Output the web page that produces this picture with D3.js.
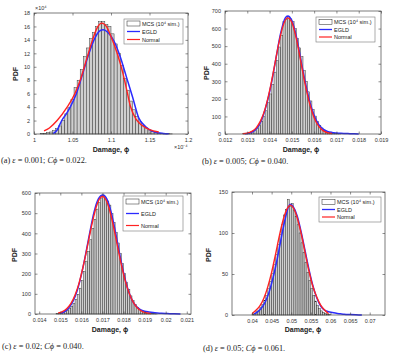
<!DOCTYPE html>
<html>
<head>
<meta charset="utf-8">
<script src="https://cdn.jsdelivr.net/npm/d3@7"></script>
<style>
  body { margin: 0; background: #fff; }
  svg { display: block; }
  .axis path.domain { display: none; }
  .axis line { stroke: #444; stroke-width: 0.6; }
  .axis text { font-family: "Liberation Sans", Arial, sans-serif; font-size: 5.5px; fill: #333; }
  .axis-title { font-family: "Liberation Sans", Arial, sans-serif; font-size: 7px; font-weight: bold; fill: #222; }
  .expo { font-family: "Liberation Sans", Arial, sans-serif; font-size: 5.5px; fill: #333; }
  .caption { font-family: "Liberation Serif", "Times New Roman", serif; font-size: 8.3px; fill: #222; }
  .legend text { font-family: "Liberation Sans", Arial, sans-serif; font-size: 5.5px; fill: #222; }
</style>
</head>
<body>
<svg id="fig" width="400" height="354"></svg>
<script>
// ---- data ----
// (a) eps = 0.001  (x in 1e-4, y in 1e4)
const aXTicks = [1, 1.05, 1.1, 1.15, 1.2];
const aYTicks = [0, 2, 4, 6, 8, 10, 12, 14, 16, 18];
const aBinStart = 1.008, aBinWidth = 0.004;
const aBars = [0.05, 0.1, 0.2, 0.3, 0.5, 0.8, 1.2, 2.0, 3.0, 3.9, 5.1, 6.9, 8.0, 9.6, 11.5, 12.8,
  14.2, 15.1, 16.0, 16.7, 16.7, 16.3, 16.0, 14.9, 13.4, 12.0, 10.2, 8.3, 6.5, 4.9, 3.6, 2.6,
  1.8, 1.3, 0.9, 0.6, 0.4, 0.25, 0.15, 0.1, 0.06, 0.04, 0.02];
const aEgld = [[1.025, 0.05], [1.030, 0.6], [1.036, 2.0], [1.042, 3.0], [1.047, 4.0], [1.055, 6.0],
  [1.062, 8.5], [1.070, 11.5], [1.078, 14.0], [1.085, 15.3], [1.090, 15.5], [1.096, 15.1],
  [1.104, 13.8], [1.112, 11.5], [1.120, 8.5], [1.128, 5.5], [1.136, 2.4], [1.144, 1.2],
  [1.152, 0.5], [1.160, 0.2], [1.168, 0.08], [1.175, 0.02]];
const aNormal = [[1.013, 0.45], [1.020, 0.9], [1.030, 2.0], [1.043, 4.0], [1.053, 6.0], [1.060, 8.0],
  [1.068, 11.0], [1.076, 14.0], [1.082, 15.8], [1.088, 16.5], [1.094, 16.0], [1.100, 14.5],
  [1.108, 12.0], [1.116, 8.8], [1.120, 6.8], [1.125, 4.2], [1.1325, 2.2], [1.140, 1.3],
  [1.150, 0.65], [1.162, 0.3]];

// (b) eps = 0.005
const bXTicks = [0.012, 0.013, 0.014, 0.015, 0.016, 0.017, 0.018, 0.019];
const bYTicks = [0, 100, 200, 300, 400, 500, 600, 700];
const bBinStart = 0.0128, bBinWidth = 0.0001;
const bBars = [2, 3, 5, 9, 14, 22, 32, 48, 70, 98, 132, 178, 228, 282, 352, 418, 495, 560, 640,
  652, 668, 655, 640, 600, 545, 490, 440, 360, 300, 240, 188, 140, 102, 72, 50, 34, 22, 15,
  10, 7, 5, 3, 2, 1];
const bEgld = [[0.0129, 2], [0.0131, 6], [0.0133, 18], [0.0135, 45], [0.0137, 100], [0.0139, 185],
  [0.0141, 300], [0.0143, 440], [0.0145, 575], [0.0147, 660], [0.01482, 672], [0.0150, 645],
  [0.0152, 555], [0.0154, 425], [0.0156, 295], [0.0158, 185], [0.0160, 105], [0.0162, 55],
  [0.0164, 28], [0.0166, 15], [0.0168, 9], [0.0170, 6], [0.0172, 4], [0.0174, 3],
  [0.0176, 2], [0.0178, 1.2], [0.0180, 0.5]];
const bNormal = [[0.0128, 2], [0.0130, 5], [0.0132, 15], [0.0134, 35], [0.0136, 76], [0.0138, 143],
  [0.0140, 245], [0.0142, 373], [0.0144, 507], [0.0146, 614], [0.0148, 661], [0.0150, 635],
  [0.0152, 543], [0.0154, 414], [0.0156, 281], [0.0158, 172], [0.0160, 93], [0.0162, 45],
  [0.0164, 19], [0.0166, 7], [0.0168, 2.5]];

// (c) eps = 0.02
const cXTicks = [0.014, 0.015, 0.016, 0.017, 0.018, 0.019, 0.02, 0.021];
const cYTicks = [0, 100, 200, 300, 400, 500, 600];
const cBinStart = 0.0148, cBinWidth = 0.0001;
const cBars = [2, 3, 5, 8, 12, 18, 26, 38, 52, 72, 98, 128, 165, 210, 262, 310, 368, 425, 470,
  520, 552, 575, 590, 575, 560, 540, 498, 455, 405, 352, 300, 250, 200, 158, 122, 90, 66, 47,
  33, 23, 16, 11, 8, 5, 4, 3, 2, 1];
const cEgld = [[0.0150, 4], [0.0152, 12], [0.0154, 30], [0.0156, 62], [0.0158, 115], [0.0160, 195],
  [0.0162, 295], [0.0164, 405], [0.0166, 505], [0.0168, 570], [0.01702, 590], [0.0172, 572],
  [0.0174, 510], [0.0176, 415], [0.0178, 305], [0.0180, 205], [0.0182, 125], [0.0184, 70],
  [0.0186, 38], [0.0188, 22], [0.0190, 14], [0.0192, 10], [0.0194, 7], [0.0196, 5],
  [0.0198, 3.5], [0.0200, 2.5], [0.0202, 1.8], [0.0204, 1.0], [0.0207, 0.3]];
const cNormal = [[0.0149, 5], [0.0151, 12], [0.0153, 26], [0.0155, 51], [0.0157, 94], [0.0159, 157],
  [0.0161, 243], [0.0163, 343], [0.0165, 445], [0.0167, 529], [0.0169, 577], [0.0170, 583],
  [0.0171, 577], [0.0173, 529], [0.0175, 445], [0.0177, 343], [0.0179, 243], [0.0181, 157],
  [0.0183, 94], [0.0185, 51], [0.0187, 26], [0.0189, 12], [0.0191, 5], [0.0193, 2]];

// (d) eps = 0.05
const dXTicks = [0.04, 0.045, 0.05, 0.055, 0.06, 0.065, 0.07];
const dYTicks = [0, 50, 100, 150];
const dBinStart = 0.0400, dBinWidth = 0.0005;
const dBars = [1, 2, 4, 6, 9, 13, 18, 24, 32, 41, 51, 62, 74, 86, 98, 110, 122, 129, 141, 132,
  136, 128, 120, 110, 100, 88, 76, 64, 52, 42, 32, 24, 17, 12, 8, 5, 3, 2, 1, 1];
const dEgld = [[0.0405, 1], [0.0415, 4], [0.0425, 9], [0.0435, 17], [0.0445, 30], [0.0455, 48],
  [0.0465, 70], [0.0475, 95], [0.0485, 118], [0.0497, 135], [0.0505, 132], [0.0515, 121],
  [0.0525, 102], [0.0535, 79], [0.0545, 56], [0.0555, 36], [0.0565, 21], [0.0575, 11],
  [0.0585, 6], [0.0595, 4], [0.0605, 3], [0.0615, 2], [0.0625, 1.5], [0.0635, 1],
  [0.0650, 0.6], [0.0665, 0.3], [0.0680, 0]];
const dNormal = [[0.0400, 1.5], [0.0410, 5.7], [0.0420, 11], [0.0430, 20], [0.0440, 34], [0.0450, 52],
  [0.0460, 74], [0.0470, 97], [0.0480, 117], [0.0490, 130], [0.0498, 134], [0.0505, 131],
  [0.0515, 119], [0.0525, 100], [0.0535, 77], [0.0545, 54], [0.0555, 35], [0.0565, 22],
  [0.0575, 12], [0.0585, 6], [0.0595, 1.5]];

const legendLabels = ['MCS (10\u2074 sim.)', 'EGLD', 'Normal'];

// ---- layout ----
const panels = [
  { box: {l: 34, t: 13, r: 188, b: 134}, xDomain: [1, 1.2], yDomain: [0, 18],
    xTicks: aXTicks, yTicks: aYTicks, binStart: aBinStart, binWidth: aBinWidth, bars: aBars,
    egld: aEgld, normal: aNormal,
    legend: {x: 124, y: 19, w: 59, h: 25, gap: 8},
    pdf: [18, 74], dmg: [111, 152],
    caption: {x: 1, y: 163, tag: '(a)', eps: '0.001', c: '0.022'},
    yExpo: '\u00d710\u2074', xExpo: '\u00d710\u207b\u2074' },
  { box: {l: 225, t: 11, r: 381, b: 134}, xDomain: [0.012, 0.019], yDomain: [0, 700],
    xTicks: bXTicks, yTicks: bYTicks, binStart: bBinStart, binWidth: bBinWidth, bars: bBars,
    egld: bEgld, normal: bNormal,
    legend: {x: 316, y: 17, w: 59, h: 25, gap: 7.5},
    pdf: [209, 73], dmg: [301, 152],
    caption: {x: 202, y: 164, tag: '(b)', eps: '0.005', c: '0.040'} },
  { box: {l: 35, t: 193, r: 191, b: 314}, xDomain: [0.0138, 0.0212], yDomain: [0, 600],
    xTicks: cXTicks, yTicks: cYTicks, binStart: cBinStart, binWidth: cBinWidth, bars: cBars,
    egld: cEgld, normal: cNormal,
    legend: {x: 123, y: 196, w: 60, h: 35, gap: 12},
    pdf: [17, 255], dmg: [110, 332],
    caption: {x: 2, y: 349, tag: '(c)', eps: '0.02', c: '0.040'} },
  { box: {l: 232, t: 192, r: 385, b: 315}, xDomain: [0.0349, 0.0739], yDomain: [0, 150],
    xTicks: dXTicks, yTicks: dYTicks, binStart: dBinStart, binWidth: dBinWidth, bars: dBars,
    egld: dEgld, normal: dNormal,
    legend: {x: 319, y: 197, w: 62, h: 25, gap: 7.5},
    pdf: [211, 255], dmg: [303, 332],
    caption: {x: 203, y: 351, tag: '(d)', eps: '0.05', c: '0.061'} }
];

const svg = d3.select('#fig');
svg.append('rect').attr('width', 400).attr('height', 354).attr('fill', '#fff');

const fmt = d => String(+d.toFixed(4));

panels.forEach(p => {
  const {l, t, r, b} = p.box;
  const x = d3.scaleLinear().domain(p.xDomain).range([l, r]);
  const y = d3.scaleLinear().domain(p.yDomain).range([b, t]);
  const g = svg.append('g');

  // plot background
  g.append('rect').attr('x', l).attr('y', t).attr('width', r - l).attr('height', b - t)
    .attr('fill', '#fff');

  // histogram bars
  g.append('g').selectAll('rect')
    .data(p.bars)
    .join('rect')
    .attr('x', (d, i) => x(p.binStart + i * p.binWidth))
    .attr('width', (d, i) => x(p.binStart + (i + 1) * p.binWidth) - x(p.binStart + i * p.binWidth))
    .attr('y', d => y(d))
    .attr('height', d => y(0) - y(d))
    .attr('fill', '#cfcfcf')
    .attr('stroke', '#2a2a2a')
    .attr('stroke-width', 0.45);

  const line = d3.line().x(d => x(d[0])).y(d => y(d[1])).curve(d3.curveMonotoneX);
  g.append('path').datum(p.egld).attr('d', line)
    .attr('fill', 'none').attr('stroke', '#2b2bff').attr('stroke-width', 1.5);
  g.append('path').datum(p.normal).attr('d', line)
    .attr('fill', 'none').attr('stroke', '#ff2222').attr('stroke-width', 1.4);

  // axes, ticks pointing inward
  g.append('g').attr('class', 'axis').attr('transform', `translate(0,${b})`)
    .call(d3.axisBottom(x).tickValues(p.xTicks).tickSize(-2.5).tickPadding(4).tickFormat(fmt));
  g.append('g').attr('class', 'axis').attr('transform', `translate(0,${t})`)
    .call(d3.axisTop(x).tickValues(p.xTicks).tickSize(-2.5).tickFormat(''));
  g.append('g').attr('class', 'axis').attr('transform', `translate(${l},0)`)
    .call(d3.axisLeft(y).tickValues(p.yTicks).tickSize(-2.5).tickPadding(4).tickFormat(fmt));
  g.append('g').attr('class', 'axis').attr('transform', `translate(${r},0)`)
    .call(d3.axisRight(y).tickValues(p.yTicks).tickSize(-2.5).tickFormat(''));

  g.append('rect').attr('x', l).attr('y', t).attr('width', r - l).attr('height', b - t)
    .attr('fill', 'none').attr('stroke', '#444').attr('stroke-width', 0.7);

  if (p.yExpo) {
    g.append('text').attr('class', 'expo').attr('x', l + 1).attr('y', t - 3).text(p.yExpo);
    g.append('text').attr('class', 'expo').attr('x', r - 14).attr('y', b + 15).text(p.xExpo);
  }

  // axis titles
  g.append('text').attr('class', 'axis-title')
    .attr('transform', `translate(${p.pdf[0]},${p.pdf[1]}) rotate(-90)`)
    .attr('text-anchor', 'middle').text('PDF');
  g.append('text').attr('class', 'axis-title')
    .attr('x', p.dmg[0]).attr('y', p.dmg[1]).attr('text-anchor', 'middle').text('Damage, \u03d5');

  // legend
  const lg = g.append('g').attr('class', 'legend');
  const L = p.legend;
  lg.append('rect').attr('x', L.x).attr('y', L.y).attr('width', L.w).attr('height', L.h)
    .attr('fill', '#fff').attr('stroke', '#777').attr('stroke-width', 0.6);
  const rowY = i => L.y + L.h / 2 + (i - 1) * L.gap;
  lg.append('rect').attr('x', L.x + 3).attr('y', rowY(0) - 2.5).attr('width', 13).attr('height', 5)
    .attr('fill', '#fff').attr('stroke', '#222').attr('stroke-width', 0.5);
  lg.append('line').attr('x1', L.x + 3).attr('x2', L.x + 16).attr('y1', rowY(1)).attr('y2', rowY(1))
    .attr('stroke', '#2b2bff').attr('stroke-width', 1.3);
  lg.append('line').attr('x1', L.x + 3).attr('x2', L.x + 16).attr('y1', rowY(2)).attr('y2', rowY(2))
    .attr('stroke', '#ff2222').attr('stroke-width', 1.2);
  legendLabels.forEach((s, i) => {
    lg.append('text').attr('x', L.x + 18).attr('y', rowY(i) + 2).text(s);
  });

  // caption
  const c = p.caption;
  const ct = g.append('text').attr('class', 'caption').attr('x', c.x).attr('y', c.y);
  ct.append('tspan').text(c.tag + ' ');
  ct.append('tspan').attr('font-style', 'italic').text('\u03b5');
  ct.append('tspan').text(' = ' + c.eps + '; ');
  ct.append('tspan').attr('font-style', 'italic').text('C\u03d5');
  ct.append('tspan').text(' = ' + c.c + '.');
});
</script>
</body>
</html>
